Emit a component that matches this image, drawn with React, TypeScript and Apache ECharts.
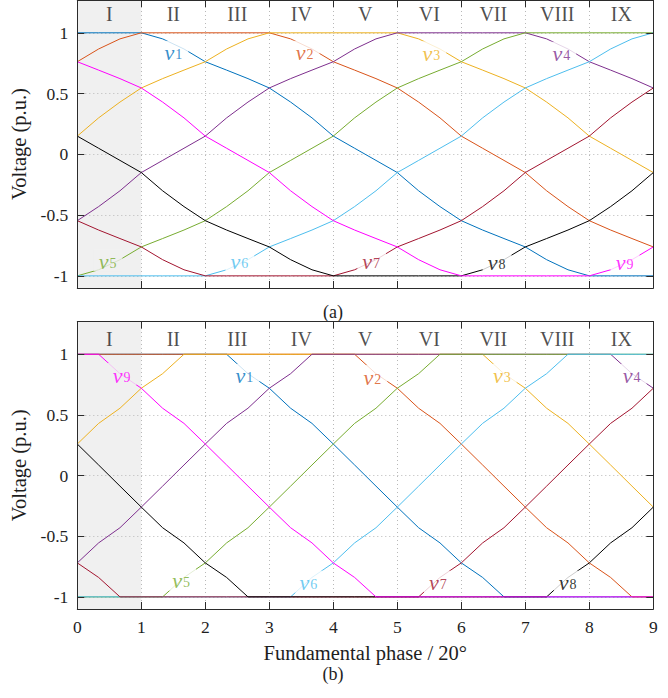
import React, { useEffect, useRef } from "react";
import * as echarts from "echarts";

// Fundamental phase samples, in units of 20 degrees
const phase = [
  0, 0.3333, 0.6667, 1, 1.3333, 1.6667, 2, 2.3333, 2.6667, 3, 3.3333, 3.6667, 4, 4.3333,
  4.6667, 5, 5.3333, 5.6667, 6, 6.3333, 6.6667, 7, 7.3333, 7.6667, 8, 8.3333, 8.6667, 9,
];

const sectors = ["I", "II", "III", "IV", "V", "VI", "VII", "VIII", "IX"];
const phaseTicks = [0, 1, 2, 3, 4, 5, 6, 7, 8, 9];
const voltageTicks = [-1, -0.5, 0, 0.5, 1];
const shadedSector = [0, 1];

// Panel (a): phase voltages v1..v9 (p.u.)
const aV1 = [1, 1, 1, 1, 0.95, 0.867, 0.762, 0.693, 0.623, 0.546, 0.43, 0.3, 0.15, 0.05, -0.05, -0.15, -0.3, -0.43, -0.546, -0.623, -0.693, -0.762, -0.867, -0.95, -1, -1, -1, -1];
const aV2 = [0.762, 0.867, 0.95, 1, 1, 1, 1, 1, 1, 1, 0.95, 0.867, 0.762, 0.693, 0.623, 0.546, 0.43, 0.3, 0.15, 0.05, -0.05, -0.15, -0.3, -0.43, -0.546, -0.623, -0.693, -0.762];
const aV3 = [0.15, 0.3, 0.43, 0.546, 0.623, 0.693, 0.762, 0.867, 0.95, 1, 1, 1, 1, 1, 1, 1, 0.95, 0.867, 0.762, 0.693, 0.623, 0.546, 0.43, 0.3, 0.15, 0.05, -0.05, -0.15];
const aV4 = [-0.546, -0.43, -0.3, -0.15, -0.05, 0.05, 0.15, 0.3, 0.43, 0.546, 0.623, 0.693, 0.762, 0.867, 0.95, 1, 1, 1, 1, 1, 1, 1, 0.95, 0.867, 0.762, 0.693, 0.623, 0.546];
const aV5 = [-1, -0.95, -0.867, -0.762, -0.693, -0.623, -0.546, -0.43, -0.3, -0.15, -0.05, 0.05, 0.15, 0.3, 0.43, 0.546, 0.623, 0.693, 0.762, 0.867, 0.95, 1, 1, 1, 1, 1, 1, 1];
const aV6 = [-1, -1, -1, -1, -1, -1, -1, -0.95, -0.867, -0.762, -0.693, -0.623, -0.546, -0.43, -0.3, -0.15, -0.05, 0.05, 0.15, 0.3, 0.43, 0.546, 0.623, 0.693, 0.762, 0.867, 0.95, 1];
const aV7 = [-0.546, -0.623, -0.693, -0.762, -0.867, -0.95, -1, -1, -1, -1, -1, -1, -1, -0.95, -0.867, -0.762, -0.693, -0.623, -0.546, -0.43, -0.3, -0.15, -0.05, 0.05, 0.15, 0.3, 0.43, 0.546];
const aV8 = [0.15, 0.05, -0.05, -0.15, -0.3, -0.43, -0.546, -0.623, -0.693, -0.762, -0.867, -0.95, -1, -1, -1, -1, -1, -1, -1, -0.95, -0.867, -0.762, -0.693, -0.623, -0.546, -0.43, -0.3, -0.15];
const aV9 = [0.762, 0.693, 0.623, 0.546, 0.43, 0.3, 0.15, 0.05, -0.05, -0.15, -0.3, -0.43, -0.546, -0.623, -0.693, -0.762, -0.867, -0.95, -1, -1, -1, -1, -1, -1, -1, -0.95, -0.867, -0.762];

// Panel (b): phase voltages v1..v9 (p.u.)
const bV1 = [1, 1, 1, 1, 1, 1, 1, 1, 0.84, 0.72, 0.555, 0.43, 0.26, 0.087, -0.087, -0.26, -0.43, -0.555, -0.72, -0.84, -1, -1, -1, -1, -1, -1, -1, -1];
const bV2 = [1, 1, 1, 1, 1, 1, 1, 1, 1, 1, 1, 1, 1, 1, 0.84, 0.72, 0.555, 0.43, 0.26, 0.087, -0.087, -0.26, -0.43, -0.555, -0.72, -0.84, -1, -1];
const bV3 = [0.26, 0.43, 0.555, 0.72, 0.84, 1, 1, 1, 1, 1, 1, 1, 1, 1, 1, 1, 1, 1, 1, 1, 0.84, 0.72, 0.555, 0.43, 0.26, 0.087, -0.087, -0.26];
const bV4 = [-0.72, -0.555, -0.43, -0.26, -0.087, 0.087, 0.26, 0.43, 0.555, 0.72, 0.84, 1, 1, 1, 1, 1, 1, 1, 1, 1, 1, 1, 1, 1, 1, 1, 0.84, 0.72];
const bV5 = [-1, -1, -1, -1, -1, -0.84, -0.72, -0.555, -0.43, -0.26, -0.087, 0.087, 0.26, 0.43, 0.555, 0.72, 0.84, 1, 1, 1, 1, 1, 1, 1, 1, 1, 1, 1];
const bV6 = [-1, -1, -1, -1, -1, -1, -1, -1, -1, -1, -1, -0.84, -0.72, -0.555, -0.43, -0.26, -0.087, 0.087, 0.26, 0.43, 0.555, 0.72, 0.84, 1, 1, 1, 1, 1];
const bV7 = [-0.72, -0.84, -1, -1, -1, -1, -1, -1, -1, -1, -1, -1, -1, -1, -1, -1, -1, -0.84, -0.72, -0.555, -0.43, -0.26, -0.087, 0.087, 0.26, 0.43, 0.555, 0.72];
const bV8 = [0.26, 0.087, -0.087, -0.26, -0.43, -0.555, -0.72, -0.84, -1, -1, -1, -1, -1, -1, -1, -1, -1, -1, -1, -1, -1, -1, -1, -0.84, -0.72, -0.555, -0.43, -0.26];
const bV9 = [1, 1, 0.84, 0.72, 0.555, 0.43, 0.26, 0.087, -0.087, -0.26, -0.43, -0.555, -0.72, -0.84, -1, -1, -1, -1, -1, -1, -1, -1, -1, -1, -1, -1, -1, -1];

const panelA = [aV1, aV2, aV3, aV4, aV5, aV6, aV7, aV8, aV9];
const panelB = [bV1, bV2, bV3, bV4, bV5, bV6, bV7, bV8, bV9];

// Anchor points (phase, voltage) of the v1..v9 tags in each panel
const tagSpotsA = [
  [1.51, 0.844], [3.56, 0.844], [5.54, 0.84], [7.57, 0.836], [0.48, -0.87],
  [2.54, -0.877], [4.6, -0.877], [6.56, -0.885], [8.56, -0.885],
];
const tagSpotsB = [
  [2.62, 0.83], [4.62, 0.82], [6.64, 0.83], [8.67, 0.83], [1.63, -0.858],
  [3.62, -0.875], [5.64, -0.875], [7.67, -0.875], [0.7, 0.837],
];

const COLORS = ["#0072BD", "#D95319", "#EDB120", "#7E2F8E", "#77AC30", "#4DBEEE", "#A2142F", "#000000", "#FF00FF"];
const FONT = "Liberation Serif";
const AXIS_COLOR = "#2b2b2b";
const TEXT_COLOR = "#1e1e1e";
const Y_MIN = -1.1;
const Y_MAX = 1.27;

function xAxes(grid: number, withLabels: boolean) {
  const base = {
    type: "value",
    gridIndex: grid,
    min: 0,
    max: 9,
    interval: 1,
    z: 10,
    axisLine: { show: true, onZero: false, lineStyle: { color: AXIS_COLOR, width: 1 } },
    axisTick: { show: true, inside: true, length: 7, lineStyle: { color: AXIS_COLOR, width: 1 } },
    splitLine: { show: false },
  };
  return [
    {
      ...base,
      position: "bottom",
      axisLabel: { show: withLabels, fontFamily: FONT, fontSize: 17.5, color: TEXT_COLOR, margin: 9 },
      name: withLabels ? "Fundamental phase / 20°" : "",
      nameLocation: "middle",
      nameGap: 33,
      nameTextStyle: { fontFamily: FONT, fontSize: 20.5, color: TEXT_COLOR },
    },
    { ...base, position: "top", axisLabel: { show: false } },
  ];
}

function yAxes(grid: number) {
  const base = {
    type: "value",
    gridIndex: grid,
    min: Y_MIN,
    max: Y_MAX,
    z: 10,
    axisLine: { show: true, onZero: false, lineStyle: { color: AXIS_COLOR, width: 1 } },
    axisTick: { show: true, inside: true, length: 7, customValues: voltageTicks, lineStyle: { color: AXIS_COLOR, width: 1 } },
    splitLine: { show: false },
  };
  return [
    {
      ...base,
      position: "left",
      axisLabel: {
        show: true,
        customValues: voltageTicks,
        fontFamily: FONT,
        fontSize: 17.5,
        color: TEXT_COLOR,
        margin: 9,
        formatter: (v: number) => String(v),
      },
      name: "Voltage (p.u.)",
      nameLocation: "middle",
      nameGap: 44,
      nameTextStyle: { fontFamily: FONT, fontSize: 20.5, color: TEXT_COLOR },
    },
    { ...base, position: "right", axisLabel: { show: false } },
  ];
}

function panelSeries(grid: number, curves: number[][], spots: number[][], sectorY: number) {
  const axisIdx = { xAxisIndex: grid * 2, yAxisIndex: grid * 2 };
  const out: any[] = [];

  // first sector shading
  out.push({
    type: "line",
    ...axisIdx,
    data: [],
    silent: true,
    z: 1,
    markArea: {
      silent: true,
      z: 1,
      itemStyle: { color: "#f0f0f0" },
      data: [[{ xAxis: shadedSector[0] }, { xAxis: shadedSector[1] }]],
    },
  });

  // dotted grid
  out.push({
    type: "line",
    ...axisIdx,
    data: [],
    silent: true,
    z: 2,
    markLine: {
      silent: true,
      z: 2,
      symbol: ["none", "none"],
      label: { show: false },
      lineStyle: { color: "#b8b8b8", width: 1, type: [1, 3] },
      data: [
        ...phaseTicks.slice(1, -1).map((v) => ({ xAxis: v })),
        ...voltageTicks.map((v) => ({ yAxis: v })),
      ],
    },
  });

  // phase voltage curves
  curves.forEach((vals, k) => {
    out.push({
      type: "line",
      name: `v${k + 1}`,
      ...axisIdx,
      data: phase.map((x, j) => [x, vals[j]]),
      symbol: "none",
      showSymbol: false,
      silent: true,
      lineStyle: { color: COLORS[k], width: 1 },
      itemStyle: { color: COLORS[k] },
      z: 3,
    });
  });

  // sector numerals
  out.push({
    type: "scatter",
    ...axisIdx,
    symbolSize: 0,
    silent: true,
    z: 6,
    data: sectors.map((s, i) => ({ name: s, value: [i + 0.5, sectorY] })),
    label: {
      show: true,
      position: "inside",
      formatter: "{b}",
      fontFamily: FONT,
      fontSize: 20,
      color: TEXT_COLOR,
    },
  });

  // curve tags
  out.push({
    type: "scatter",
    ...axisIdx,
    symbolSize: 0,
    silent: true,
    z: 5,
    data: spots.map((p, k) => ({
      value: p,
      label: {
        formatter: `{v|v}{s|${k + 1}}`,
        backgroundColor: p[0] < shadedSector[1] ? "#f0f0f0" : "#ffffff",
        rich: {
          v: { fontFamily: FONT, fontStyle: "italic", fontSize: 22, lineHeight: 20, verticalAlign: "top", color: COLORS[k] },
          s: { fontFamily: FONT, fontSize: 14, lineHeight: 14, padding: [9, 0, 0, 1], verticalAlign: "bottom", color: COLORS[k] },
        },
      },
    })),
    label: { show: true, position: "inside", padding: [1, 6, 1, 5] },
  });

  return out;
}

export default function App() {
  const ref = useRef<HTMLDivElement>(null);

  useEffect(() => {
    if (!ref.current) return;
    const chart = echarts.init(ref.current, undefined, { renderer: "svg" });
    chart.setOption({
      animation: false,
      backgroundColor: "#ffffff",
      textStyle: { fontFamily: FONT },
      grid: [
        { left: 77.3, width: 576, top: 0, height: 288 },
        { left: 77.3, width: 576, top: 321.5, height: 287.5 },
      ],
      xAxis: [...xAxes(0, false), ...xAxes(1, true)],
      yAxis: [...yAxes(0), ...yAxes(1)],
      series: [...panelSeries(0, panelA, tagSpotsA, 1.158), ...panelSeries(1, panelB, tagSpotsB, 1.127)],
      graphic: [
        {
          type: "text",
          x: 333,
          y: 311.7,
          style: { text: "(a)", font: `18px ${FONT}`, fill: TEXT_COLOR, align: "center", verticalAlign: "middle" },
        },
        {
          type: "text",
          x: 333,
          y: 674,
          style: { text: "(b)", font: `18px ${FONT}`, fill: TEXT_COLOR, align: "center", verticalAlign: "middle" },
        },
      ],
    });
    return () => chart.dispose();
  }, []);

  return (
    <div
      ref={ref}
      style={{ position: "fixed", left: 0, top: 0, width: 668, height: 698, background: "#fff" }}
    />
  );
}
